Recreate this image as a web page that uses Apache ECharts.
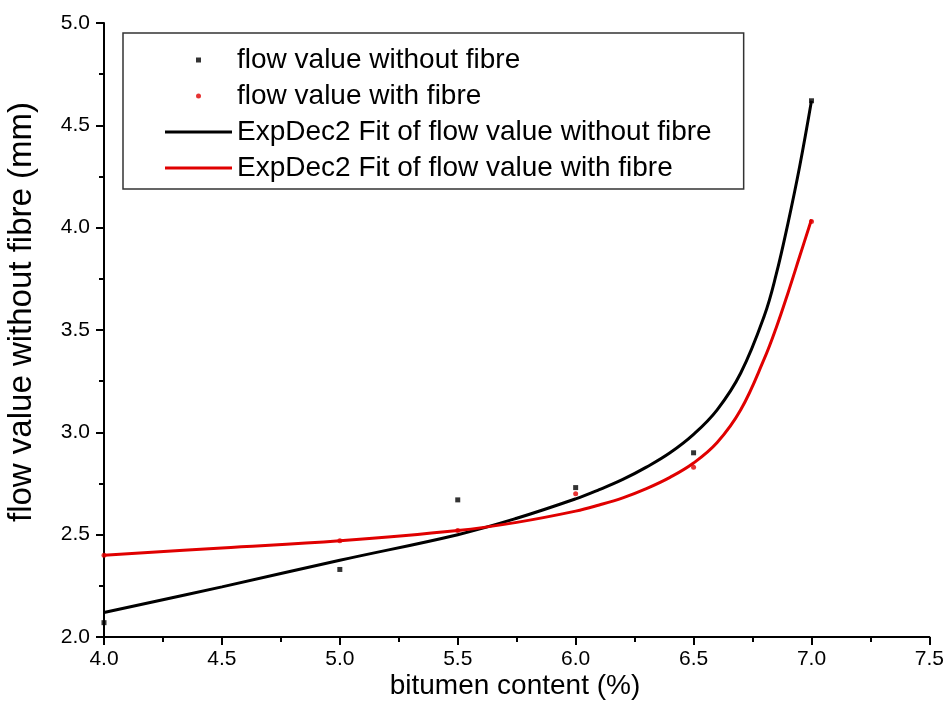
<!DOCTYPE html>
<html>
<head>
<meta charset="utf-8">
<script src="https://cdn.jsdelivr.net/npm/echarts@6/dist/echarts.min.js"></script>
<style>
html,body{margin:0;padding:0;background:#fff;}
#main{width:947px;height:728px;}
</style>
</head>
<body>
<div id="main"></div>
<script>
// measured points
var xNoFibre=[4.0,5.0,5.5,6.0,6.5,7.0];
var yNoFibre=[2.07,2.33,2.67,2.73,2.90,4.62];
var xFibre=[4.0,5.0,5.5,6.0,6.5,7.0];
var yFibre=[2.40,2.47,2.52,2.70,2.83,4.03];

// fit curves
var xFit=[4.0,4.5,5.0,5.5,5.75,6.0,6.1,6.2,6.3,6.4,6.5,6.6,6.7,6.8,6.85,6.9,6.95,7.0];
var yFitNo=[2.12,2.245,2.375,2.50,2.58,2.675,2.72,2.77,2.83,2.90,2.99,3.11,3.29,3.57,3.77,4.02,4.30,4.62];
var yFitWith=[2.40,2.435,2.47,2.52,2.56,2.615,2.645,2.68,2.725,2.78,2.85,2.95,3.11,3.36,3.51,3.68,3.86,4.04];

var names=["flow value without fibre","flow value with fibre",
    "ExpDec2 Fit of flow value without fibre","ExpDec2 Fit of flow value with fibre"];

function pairs(xs,ys)
{
    var out=[];
    for(var i=0;i<xs.length;i++) out.push([xs[i],ys[i]]);
    return out;
}

var font='"Liberation Sans", Arial, sans-serif';
var chart=echarts.init(document.getElementById('main'));

var axisCommon={
    type:'value',
    interval:0.5,
    axisLine:{show:true,onZero:false,lineStyle:{color:'#000',width:2}},
    axisTick:{show:true,inside:false,length:8,lineStyle:{color:'#000',width:2}},
    minorTick:{show:true,splitNumber:2,length:5,lineStyle:{color:'#000',width:2}},
    splitLine:{show:false},
    axisLabel:{color:'#000',fontSize:21,fontFamily:font,formatter:function(v){return v.toFixed(1);}}
};

var option={
    backgroundColor:'#fff',
    animation:false,
    grid:{left:104,right:15,top:23,bottom:91},
    xAxis:echarts.util.merge({min:4,max:7.5,axisLabel:{margin:12}},axisCommon,false),
    yAxis:echarts.util.merge({min:2,max:5,axisLabel:{margin:14}},axisCommon,false),
    legend:{
        orient:'vertical',
        left:123,top:33,
        padding:[12,32,6,42],
        itemGap:6,
        itemWidth:67,itemHeight:5,
        borderColor:'#333',borderWidth:1.5,borderRadius:0,
        backgroundColor:'#fff',
        textStyle:{color:'#000',fontSize:28,lineHeight:30,fontFamily:font},
        data:[
            {name:names[0],icon:'path://M0 0H1V1H0Z'},
            {name:names[1],icon:'circle'},
            {name:names[2],icon:'path://M0 0H22V1H0Z'},
            {name:names[3],icon:'path://M0 0H22V1H0Z'}
        ]
    },
    graphic:[
        {type:'text',x:515,y:686,style:{text:'bitumen content (%)',fill:'#000',font:'28px '+font,align:'center',verticalAlign:'middle'}},
        {type:'text',x:22,y:312,rotation:Math.PI/2,style:{text:'flow value without fibre (mm)',fill:'#000',font:'33px '+font,align:'center',verticalAlign:'middle'}}
    ],
    series:[
        {name:names[0],type:'scatter',symbol:'rect',symbolSize:5,itemStyle:{color:'#000'},data:pairs(xNoFibre,yNoFibre),z:3},
        {name:names[1],type:'scatter',symbol:'circle',symbolSize:5,itemStyle:{color:'#e00000'},data:pairs(xFibre,yFibre),z:3},
        {name:names[2],type:'line',smooth:0.4,showSymbol:false,symbol:'none',itemStyle:{color:'#000'},lineStyle:{color:'#000',width:3},data:pairs(xFit,yFitNo),z:2},
        {name:names[3],type:'line',smooth:0.4,showSymbol:false,symbol:'none',itemStyle:{color:'#e00000'},lineStyle:{color:'#e00000',width:3},data:pairs(xFit,yFitWith),z:2}
    ]
};
chart.setOption(option);
</script>
</body>
</html>
